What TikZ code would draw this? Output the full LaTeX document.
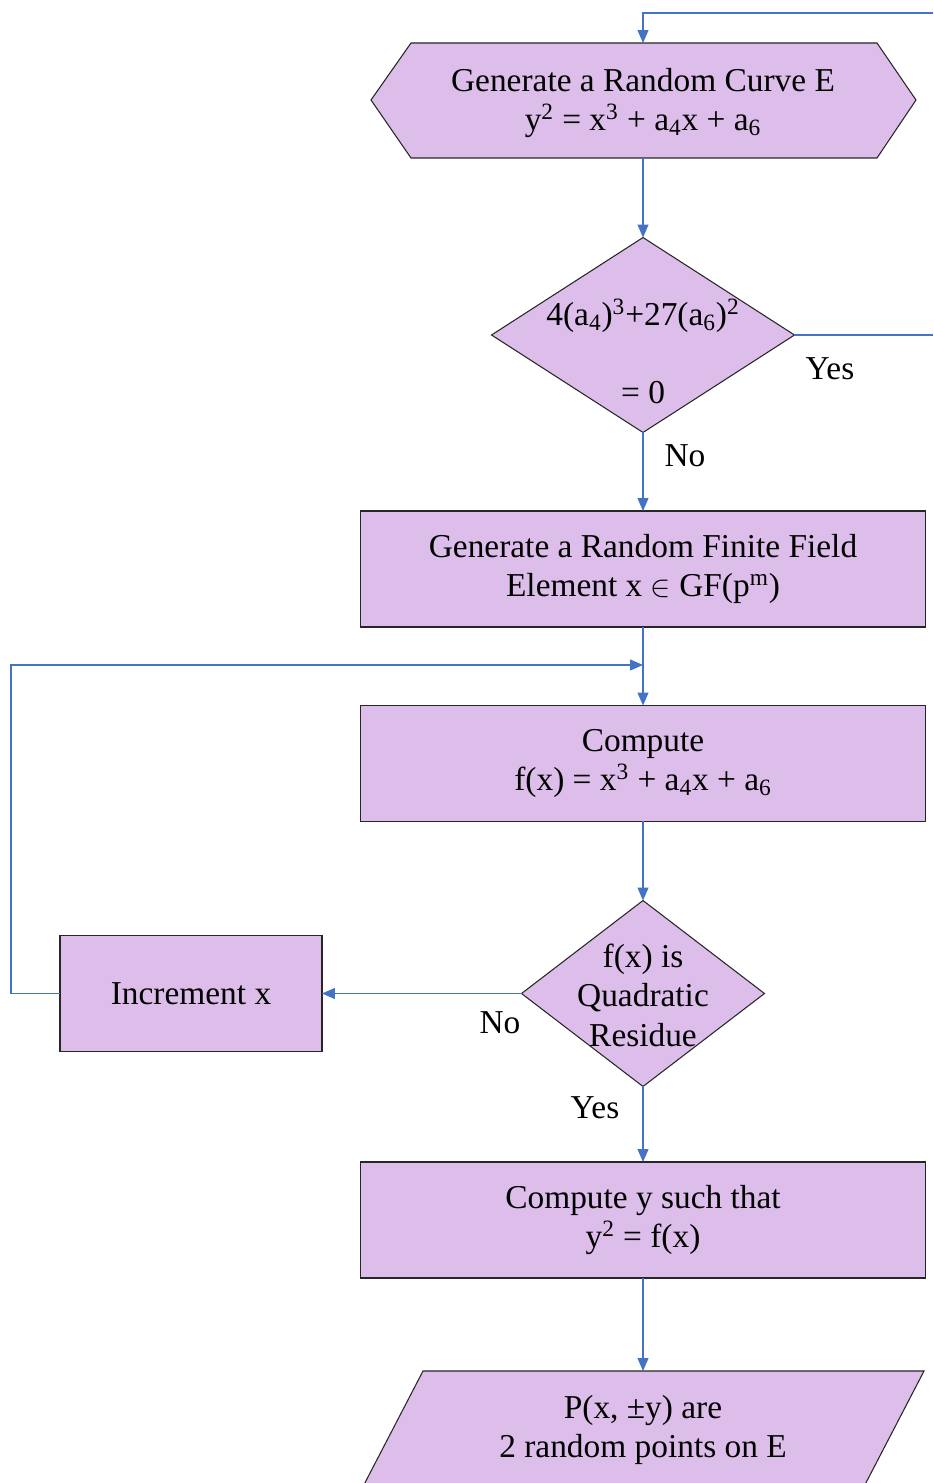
\documentclass[tikz,border=0pt]{standalone}
\usepackage{fontspec}
\setmainfont{Liberation Serif}
\usetikzlibrary{shapes.geometric, arrows.meta, positioning, calc}
\definecolor{stepLilac}{RGB}{221, 190, 234}
\definecolor{flowBlue}{RGB}{68, 114, 196}

\begin{document}
\begin{tikzpicture}[x=0.02cm, y=-0.02cm, >={Triangle[length=0.26cm, width=0.22cm]},
  font=\fontsize{19}{22.5}\selectfont,
  box/.style={draw=black!85, fill=stepLilac, line width=0.6pt, minimum width=11.3cm,
              minimum height=2.32cm, align=center, inner sep=0pt, outer sep=0pt},
  dmd/.style={diamond, draw=black!85, fill=stepLilac, line width=0.6pt,
              inner sep=0pt, outer sep=0pt},
  txt/.style={align=center, inner sep=0pt, outer sep=0pt},
  flow/.style={->, draw=flowBlue, line width=0.6pt},
  wire/.style={draw=flowBlue, line width=0.6pt}]

  \useasboundingbox (0,0) rectangle (933,1483);
  \clip (0,0) rectangle (933,1483);

  % curve generation (hexagon)
  \draw[draw=black!85, fill=stepLilac, line width=0.6pt]
    (371,100) -- (411,43) -- (877,43) -- (916,100) -- (877,158) -- (411,158) -- cycle;
  \node[txt, minimum width=10.1cm, minimum height=2.3cm] (curve) at (643,100.5) {};
  \node[txt] (curvetxt) at (643,103)
    {Generate a Random Curve E\\
     y\textsuperscript{2} = x\textsuperscript{3} + a\textsubscript{4}x + a\textsubscript{6}};

  % discriminant test
  \node[dmd, minimum width=6.06cm, minimum height=3.9cm] (chk) at (643,335) {};
  \node[txt] (chktop) at (643,316)
    {4(a\textsubscript{4})\textsuperscript{3}+27(a\textsubscript{6})\textsuperscript{2}};
  \node[txt] (chkbot) at (643,393) {= 0};

  \node[box] (field) at (643,569)
    {Generate a Random Finite Field\\ Element x $\in$ GF(p\textsuperscript{m})};
  \node[box] (fx) at (643,763.5)
    {Compute\\ f(x) = x\textsuperscript{3} + a\textsubscript{4}x + a\textsubscript{6}};

  % quadratic residue test
  \node[dmd, minimum width=4.86cm, minimum height=3.72cm] (qr) at (643,993.5) {};
  \node[txt] (qrtxt) at (643,995) {f(x) is\\ Quadratic\\ Residue};

  \node[box, minimum width=5.24cm] (inc) at (191,993.5) {Increment x};
  \node[box] (sqrt) at (643,1220) {Compute y such that\\ y\textsuperscript{2} = f(x)};

  % output (parallelogram)
  \draw[draw=black!85, fill=stepLilac, line width=0.6pt]
    (423,1371) -- (924,1371) -- (857,1500) -- (356,1500) -- cycle;
  \node[txt, minimum width=8cm, minimum height=2.36cm] (pts) at (643,1430)
    {P(x, ±y) are\\ 2 random points on E};

  \node (yesA) at (830,369) {Yes};
  \node (noA)  at (685,456) {No};
  \node (noB)  at (500,1023) {No};
  \node (yesB) at (595,1108) {Yes};

  \coordinate (backin)  at (933,13);
  \coordinate (backout) at (933,335);
  \coordinate (merge)   at (643,665);

  \draw[flow] (backin) -| (curve.north);
  \draw[flow] (curve.south) -- (chk.north);
  \draw[wire] (chk.east) -- (backout);
  \draw[flow] (chk.south) -- (field.north);
  \draw[flow] (field.south) -- (fx.north);
  \draw[flow] (fx.south) -- (qr.north);
  \draw[flow] (qr.west) -- (inc.east);
  \draw[flow] (inc.west) -- ++(-49,0) |- (merge);
  \draw[flow] (qr.south) -- (sqrt.north);
  \draw[flow] (sqrt.south) -- (pts.north);

\end{tikzpicture}
\end{document}
